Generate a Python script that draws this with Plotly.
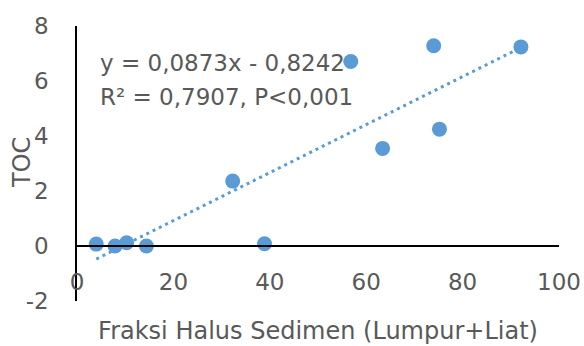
import plotly.graph_objects as go

# Data
fraksi_halus = [4.0, 7.9, 10.3, 14.4, 32.3, 38.9, 56.8, 63.4, 74.0, 75.2, 92.1]
toc = [0.07, 0.0, 0.12, 0.0, 2.36, 0.08, 6.71, 3.55, 7.28, 4.25, 7.24]
slope = 0.0873
intercept = -0.8242
x_ticks = [0, 20, 40, 60, 80, 100]
x_tick_text = ["0", "20", "40", "60", "80", "100"]
y_ticks = [-2, 0, 2, 4, 6, 8]
y_tick_text = ["-2", "0", "2", "4", "6", "8"]
eq_line1 = "y = 0,0873x - 0,8242"
eq_line2 = "R² = 0,7907, P<0,001"
x_title = "Fraksi Halus Sedimen (Lumpur+Liat)"
y_title = "TOC"

blue = "#5B9BD5"
grey = "#595959"
font_family = "DejaVu Sans"

x_min, x_max = min(fraksi_halus), max(fraksi_halus)
trend_x = [x_min, x_max]
trend_y = [slope * v + intercept for v in trend_x]

W, H = 584, 346
ML, MR, MT, MB = 77, 25, 26, 45
pw = W - ML - MR
ph = H - MT - MB

fig = go.Figure()
fig.add_trace(go.Scatter(
    x=trend_x, y=trend_y, mode="lines",
    line=dict(color=blue, width=3, dash="3px,4px"),
    hoverinfo="skip", showlegend=False))
fig.add_trace(go.Scatter(
    x=fraksi_halus, y=toc, mode="markers",
    marker=dict(color=blue, size=15),
    showlegend=False))

fig.add_annotation(x=4.3, y=6.65, xref="x", yref="y", text=eq_line1,
                   showarrow=False, xanchor="left", yanchor="middle",
                   font=dict(family=font_family, size=23, color=grey))
fig.add_annotation(x=4.3, y=5.42, xref="x", yref="y", text=eq_line2,
                   showarrow=False, xanchor="left", yanchor="middle",
                   font=dict(family=font_family, size=23, color=grey))
# y-axis title as a rotated annotation (pixel position converted to paper fraction)
fig.add_annotation(x=(22 - ML) / pw, y=(H - MB - 163) / ph,
                   xref="paper", yref="paper", text=y_title,
                   showarrow=False, textangle=-90,
                   xanchor="center", yanchor="middle",
                   font=dict(family=font_family, size=24, color=grey))

fig.update_layout(
    width=W, height=H,
    margin=dict(l=ML, r=MR, t=MT, b=MB),
    paper_bgcolor="white", plot_bgcolor="white",
    font=dict(family=font_family, color=grey, size=23),
    xaxis=dict(
        range=[0, 100], tickvals=x_ticks, ticktext=x_tick_text,
        showgrid=False, zeroline=False, automargin=False,
        showline=True, linecolor="black", linewidth=1.5,
        anchor="free", position=0.2, ticks="", ticklabelstandoff=16,
        tickfont=dict(size=23, color=grey),
        title=dict(text=x_title, standoff=27,
                   font=dict(size=24, color=grey))),
    yaxis=dict(
        range=[-2, 8], tickvals=y_ticks, ticktext=y_tick_text,
        showgrid=False, zeroline=False, automargin=False,
        showline=True, linecolor="black", linewidth=1.5,
        ticks="", ticklabelstandoff=22,
        tickfont=dict(size=23, color=grey)),
)

fig.write_html("out.html", config={"displayModeBar": False},
               post_script="document.body.style.margin='0px';")
